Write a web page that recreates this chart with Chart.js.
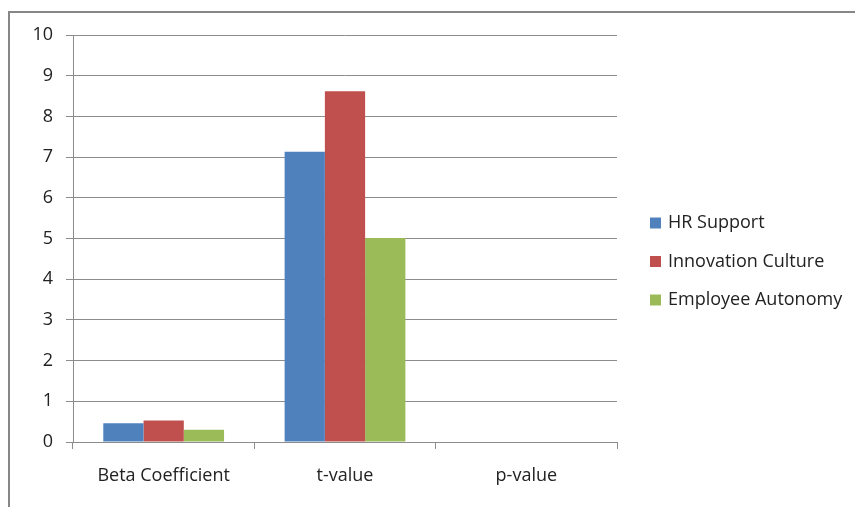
<!DOCTYPE html>
<html>
<head>
<meta charset="utf-8">
<script src="https://cdn.jsdelivr.net/npm/chart.js@4/dist/chart.umd.min.js"></script>
<style>
  html, body { margin: 0; padding: 0; background: #ffffff; }
  #wrap { width: 855px; height: 507px; position: relative; }
</style>
</head>
<body>
<div id="wrap"><canvas id="chart" width="855" height="507"></canvas></div>
<script>
// Regression statistics per predictor
const categories = ['Beta Coefficient', 't-value', 'p-value'];
const hrSupport = [0.46, 7.13, 0];
const innovationCulture = [0.53, 8.62, 0];
const employeeAutonomy = [0.30, 5.01, 0];
const seriesNames = ['HR Support', 'Innovation Culture', 'Employee Autonomy'];
const seriesColors = ['#4F81BD', '#C0504D', '#9BBB59'];
const yTicks = [0, 1, 2, 3, 4, 5, 6, 7, 8, 9, 10];

const FONT = '"Open Sans", "DejaVu Sans", sans-serif';
const TEXT = '#222222';
const GRID = '#8c8c8c';

// White page with the grey frame along the top and left edges
const framePlugin = {
  id: 'frame',
  beforeDraw(chart) {
    const ctx = chart.ctx;
    ctx.save();
    ctx.fillStyle = '#ffffff';
    ctx.fillRect(0, 0, chart.width, chart.height);
    ctx.strokeStyle = '#878787';
    ctx.lineWidth = 2;
    ctx.beginPath();
    ctx.moveTo(9, chart.height + 2);
    ctx.lineTo(9, 12);
    ctx.lineTo(chart.width + 2, 12);
    ctx.stroke();
    ctx.restore();
  }
};

// Legend drawn to the right of the plot
const sideLegend = {
  id: 'sideLegend',
  afterDraw(chart) {
    const ctx = chart.ctx;
    ctx.save();
    ctx.font = '18px ' + FONT;
    ctx.textBaseline = 'middle';
    ctx.textAlign = 'left';
    chart.data.datasets.forEach((ds, i) => {
      const cy = 223 + i * 38.5;
      ctx.fillStyle = ds.backgroundColor;
      ctx.fillRect(650, cy - 5.5, 11, 11);
      ctx.fillStyle = TEXT;
      ctx.fillText(ds.label, 668, cy);
    });
    ctx.restore();
  }
};

const series = [hrSupport, innovationCulture, employeeAutonomy];

new Chart(document.getElementById('chart'), {
  type: 'bar',
  data: {
    labels: categories,
    datasets: series.map((vals, i) => ({
      label: seriesNames[i],
      data: vals,
      backgroundColor: seriesColors[i],
      borderWidth: 0,
      categoryPercentage: 0.666,
      barPercentage: 1.0
    }))
  },
  options: {
    responsive: false,
    animation: false,
    events: [],
    layout: { padding: { top: 35, right: 238, bottom: 0, left: 0 } },
    plugins: {
      legend: { display: false },
      tooltip: { enabled: false }
    },
    scales: {
      x: {
        grid: {
          offset: true,
          drawOnChartArea: false,
          drawTicks: true,
          tickLength: 7,
          color: GRID,
          lineWidth: 1
        },
        border: { color: GRID, width: 1 },
        ticks: {
          color: TEXT,
          font: { family: FONT, size: 18 },
          padding: 16,
          maxRotation: 0
        },
        afterFit(scale) { scale.height = 65; }
      },
      y: {
        min: 0,
        max: 10,
        afterBuildTicks(scale) { scale.ticks = yTicks.map(v => ({ value: v })); },
        grid: {
          color: GRID,
          lineWidth: 1,
          drawTicks: true,
          tickLength: 7
        },
        border: { color: GRID, width: 1 },
        ticks: {
          color: TEXT,
          font: { family: FONT, size: 18 },
          padding: 13
        },
        afterFit(scale) { scale.width = 73; }
      }
    }
  },
  plugins: [framePlugin, sideLegend]
});
</script>
</body>
</html>
